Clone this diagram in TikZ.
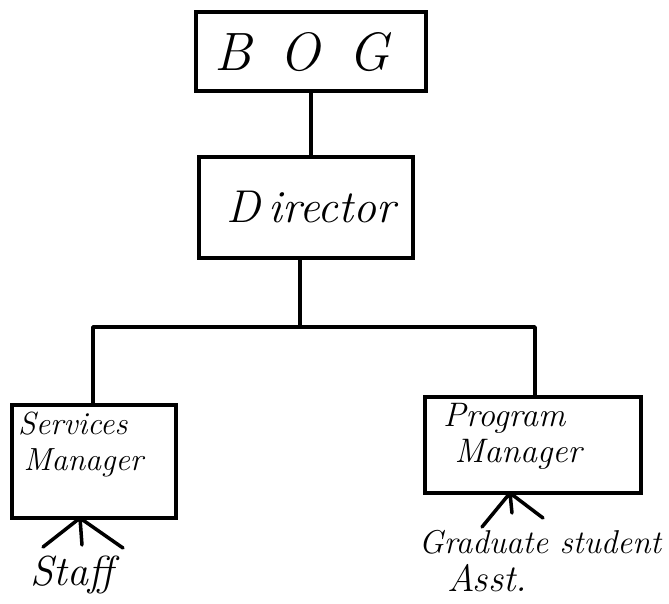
\documentclass[tikz,border=0pt]{standalone}
\usepackage{fontspec}
\begin{document}
\begin{tikzpicture}[x=1pt,y=-1pt,
  box/.style={draw,line width=3.5pt,inner sep=0pt},
  ink/.style={line width=3.5pt,line cap=round,line join=round},
  hand/.style={inner sep=0pt,font=\itshape}]
\useasboundingbox (0,0) rectangle (669,603);
% boxes
\node[box,minimum width=230pt,minimum height=79pt] (bog) at (311,51.5) {};
\node[box,minimum width=214pt,minimum height=101pt] (dir) at (306,207.5) {};
\node[box,minimum width=164pt,minimum height=113pt] (svc) at (94,461.5) {};
\node[box,minimum width=216pt,minimum height=96pt] (prg) at (533,445) {};
% texts
\node[hand,font=\itshape\fontsize{54}{54}\selectfont] (tbog) at (302,52) {B\, O\, G};
\node[hand,font=\itshape\fontsize{46}{46}\selectfont] (tdir) at (311,207) {D\,irector};
\node[hand,font=\itshape\fontsize{32}{36}\selectfont,align=left,anchor=north west] (tsvc) at (18,412) {Services\\\,Manager};
\node[hand,font=\itshape\fontsize{34}{36}\selectfont,align=left,anchor=north west] (tprg) at (443,403) {Program\\\,\,Manager};
\node[hand,font=\itshape\fontsize{42}{42}\selectfont] (tstaff) at (72,575) {Staff};
\node[hand,font=\itshape\fontsize{33}{34}\selectfont] (tgrad) at (540,542) {Graduate student};
\node[hand,font=\itshape\fontsize{38}{38}\selectfont] (tasst) at (487,578) {Asst.};
% hierarchy connectors
\coordinate (br) at (300,327);
\draw[ink] (bog.south) -- (bog.south |- dir.north);
\draw[ink] ([xshift=-6pt]dir.south) -- ([xshift=-6pt]dir.south |- br);
\draw[ink] ([xshift=-1pt]svc.north) |- ([xshift=2pt]prg.north |- br) -- ([xshift=2pt]prg.north);
% fans
\coordinate (sf) at (80,518);
\coordinate (sf1) at (43,547);
\coordinate (sf2) at (82,545);
\coordinate (sf3) at (123,548);
\draw[ink] (sf) -- (sf1) (sf) -- (sf2) (sf) -- (sf3);
\coordinate (pf) at (510,493);
\coordinate (pf1) at (482,527);
\coordinate (pf2) at (512,513);
\coordinate (pf3) at (543,518);
\draw[ink] (pf) -- (pf1) (pf) -- (pf2) (pf) -- (pf3);
\end{tikzpicture}
\end{document}
